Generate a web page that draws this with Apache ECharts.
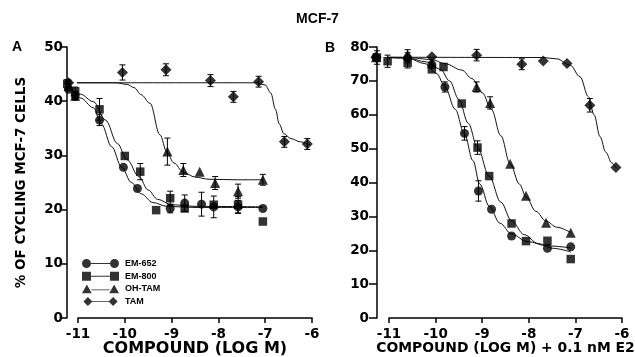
<!DOCTYPE html>
<html>
<head>
<meta charset="utf-8">
<title>MCF-7</title>
<script src="https://cdn.jsdelivr.net/npm/echarts@6/dist/echarts.min.js"></script>
<style>
  html, body { margin: 0; padding: 0; background: #fff; }
  #chart { width: 635px; height: 357px; }
</style>
</head>
<body>
<div id="chart"></div>
<script>
// compounds, in legend order
const compounds = ['EM-652', 'EM-800', 'OH-TAM', 'TAM'];

// panel A: [log M, % cycling, error half-width]
const aEM652 = [[-11.2, 42.2, 0], [-11.06, 41, 0.8], [-10.54, 36.5, 1.0], [-10.03, 27.8, 0], [-9.73, 23.9, 0],
  [-9.03, 20.2, 0.8], [-8.72, 21.2, 1.5], [-8.36, 21.0, 2.2], [-8.1, 20.5, 2.0], [-7.58, 20.5, 1.2], [-7.05, 20.2, 0]];
const aEM800 = [[-11.23, 43.2, 0.8], [-11.06, 41.8, 0.8], [-10.54, 38.5, 2.0], [-10.0, 29.9, 0], [-9.67, 27.0, 1.5],
  [-9.33, 19.9, 0], [-9.03, 22.1, 1.3], [-8.72, 20.2, 0], [-8.1, 20.9, 0], [-7.58, 20.9, 1.5], [-7.05, 17.8, 0]];
const aOHTAM = [[-11.2, 42.8, 0], [-11.06, 41.0, 0.7], [-9.09, 30.7, 2.5], [-8.75, 27.3, 1.2], [-8.4, 27.0, 0],
  [-8.07, 24.9, 1.2], [-7.58, 23.4, 1.3], [-7.05, 25.5, 1.0]];
const aTAM = [[-11.2, 43.4, 0], [-10.05, 45.3, 1.4], [-9.12, 45.8, 1.1], [-8.17, 43.8, 1.1], [-7.68, 40.8, 1.0],
  [-7.14, 43.6, 1.0], [-6.59, 32.5, 1.0], [-6.1, 32.1, 1.0]];

// panel A fitted curves
const aFitEM652 = [[-11.2, 42.2], [-10.95, 40.6], [-10.67, 38.8], [-10.5, 35.8], [-10.28, 31.6], [-10.07, 27.9],
  [-9.86, 25.0], [-9.65, 22.9], [-9.4, 21.3], [-9.1, 20.6], [-8.5, 20.4], [-7.05, 20.4]];
const aFitEM800 = [[-11.2, 42.6], [-10.95, 41.3], [-10.67, 39.9], [-10.41, 36.5], [-10.16, 32.2], [-9.95, 29.2],
  [-9.7, 26.1], [-9.5, 23.6], [-9.3, 21.9], [-9.0, 20.9], [-8.5, 20.6], [-7.05, 20.5]];
const aFitOHTAM = [[-11.2, 43.4], [-10.2, 43.4], [-9.95, 43.1], [-9.8, 42.5], [-9.65, 41.2], [-9.46, 39.6],
  [-9.25, 33.8], [-9.1, 30.6], [-8.95, 28.6], [-8.75, 26.9], [-8.5, 26.0], [-8.2, 25.6], [-7.6, 25.5], [-7.05, 25.5]];
const aFitTAM = [[-11.2, 43.4], [-7.2, 43.4], [-7.0, 43.0], [-6.88, 41.5], [-6.78, 38.5], [-6.7, 35.8],
  [-6.6, 34.0], [-6.45, 33.1], [-6.25, 32.5], [-6.04, 31.9]];

// panel B (+ 0.1 nM E2)
const bEM652 = [[-11.28, 77, 0], [-10.6, 76.8, 1.5], [-10.08, 74.8, 0], [-9.8, 68.2, 1.5], [-9.38, 54.5, 2.0],
  [-9.08, 37.5, 3.0], [-8.8, 32.1, 0], [-8.37, 24.2, 0], [-7.6, 20.6, 0], [-7.1, 21.0, 0]];
const bEM800 = [[-11.26, 76.9, 2.0], [-11.03, 75.8, 1.8], [-10.6, 75.3, 1.5], [-10.08, 73.4, 0], [-9.83, 74.1, 0],
  [-9.44, 63.3, 0], [-9.1, 50.3, 2.0], [-8.85, 41.9, 0], [-8.37, 27.9, 0], [-8.06, 22.7, 0], [-7.6, 22.8, 0], [-7.1, 17.4, 0]];
const bOHTAM = [[-11.28, 77, 0], [-10.6, 77.7, 1.5], [-10.08, 75.2, 0], [-9.12, 68.2, 1.5], [-8.83, 63.5, 1.8],
  [-8.4, 45.5, 0], [-8.06, 36.1, 0], [-7.63, 28.1, 0], [-7.1, 25.2, 0]];
const bTAM = [[-11.28, 77, 0], [-10.08, 77.1, 0], [-9.12, 77.6, 1.7], [-8.15, 74.9, 1.6], [-7.69, 75.9, 0],
  [-7.18, 75.1, 0], [-6.69, 62.8, 2.0], [-6.13, 44.4, 0]];

const bFitEM652 = [[-11.28, 77], [-10.6, 76.7], [-10.23, 75.1], [-9.98, 72.2], [-9.8, 68.3], [-9.58, 61.6],
  [-9.38, 54.3], [-9.2, 46.5], [-9.05, 39.5], [-8.85, 33.0], [-8.62, 28.0], [-8.37, 24.8], [-8.04, 22.6], [-7.6, 21.3], [-7.1, 20.7]];
const bFitEM800 = [[-11.28, 77], [-10.6, 76.8], [-10.2, 75.6], [-9.9, 73.5], [-9.7, 70.0], [-9.5, 64.5],
  [-9.3, 57.5], [-9.1, 50.3], [-8.85, 41.9], [-8.6, 34.2], [-8.37, 28.7], [-8.1, 24.6], [-7.8, 22.0], [-7.5, 20.6], [-7.1, 19.5]];
const bFitOHTAM = [[-11.28, 77], [-10.6, 76.9], [-10.08, 76.3], [-9.8, 75.1], [-9.44, 73.2], [-9.22, 70.7],
  [-9.0, 66.5], [-8.8, 61.5], [-8.6, 53.8], [-8.4, 45.5], [-8.2, 39.5], [-8.06, 35.8], [-7.85, 31.5], [-7.63, 28.6], [-7.4, 26.8], [-7.1, 25.2]];
const bFitTAM = [[-11.28, 77], [-7.7, 76.9], [-7.4, 76.5], [-7.11, 74.6], [-6.9, 71.2], [-6.72, 65.3],
  [-6.6, 60.0], [-6.47, 53.5], [-6.35, 49.0], [-6.22, 45.8], [-6.13, 44.4]];

const FONT = '"Liberation Sans", Arial, Helvetica, sans-serif';
const WIDE = '"DejaVu Sans", Verdana, sans-serif';
const symbols = ['circle', 'rect', 'triangle', 'diamond'];
const symSizes = [9, 8.5, 10, 11];
const icons = [
  'path://M0,4.5a4.5,4.5 0 1,0 9,0a4.5,4.5 0 1,0 -9,0Z M28,4.5a4.5,4.5 0 1,0 9,0a4.5,4.5 0 1,0 -9,0Z M9,4h19v1h-19Z',
  'path://M0,0h9v9h-9Z M28,0h9v9h-9Z M9,4h19v1h-19Z',
  'path://M4.5,0L9.5,9H-0.5Z M32.5,0L37.5,9H27.5Z M9,5h19v1h-19Z',
  'path://M4.5,-0.5L9.5,4.5L4.5,9.5L-0.5,4.5Z M32.5,-0.5L37.5,4.5L32.5,9.5L27.5,4.5Z M9,4h19v1h-19Z'
];

const chart = echarts.init(document.getElementById('chart'), null, { renderer: 'canvas' });

function errBar(params, api) {
  const x = api.value(0), y = api.value(1), e = api.value(2);
  const hi = api.coord([x, y + e]);
  const lo = api.coord([x, y - e]);
  const st = { stroke: '#000', lineWidth: 1 };
  return {
    type: 'group',
    children: [
      { type: 'line', shape: { x1: hi[0], y1: hi[1], x2: lo[0], y2: lo[1] }, style: st },
      { type: 'line', shape: { x1: hi[0] - 3, y1: hi[1], x2: hi[0] + 3, y2: hi[1] }, style: st },
      { type: 'line', shape: { x1: lo[0] - 3, y1: lo[1], x2: lo[0] + 3, y2: lo[1] }, style: st }
    ]
  };
}

function panelSeries(idx, points, fits) {
  const out = [];
  fits.forEach((f) => {
    out.push({
      type: 'line', xAxisIndex: idx, yAxisIndex: idx, data: f,
      showSymbol: false, smooth: 0.35, smoothMonotone: 'x', clip: false,
      lineStyle: { color: '#111', width: 1 }, silent: true, z: 2
    });
  });
  points.forEach((p, i) => {
    out.push({
      type: 'custom', xAxisIndex: idx, yAxisIndex: idx, renderItem: errBar,
      data: p.filter((d) => d[2] > 0), encode: { x: 0, y: 1 }, clip: false, silent: true, z: 3
    });
    out.push({
      type: 'scatter', name: compounds[i], xAxisIndex: idx, yAxisIndex: idx,
      data: p.map((d) => [d[0], d[1]]), symbol: symbols[i], symbolSize: symSizes[i],
      itemStyle: { color: '#000' }, clip: false, z: 4
    });
  });
  return out;
}

const axisLabel = { color: '#000', fontFamily: WIDE, fontWeight: 'bold', fontSize: 13.5 };
const axisLine = { show: true, lineStyle: { color: '#000', width: 1.5 } };
const axisTick = { show: true, length: 5, lineStyle: { color: '#000', width: 1.5 } };
const nameStyle = (size) => ({ color: '#000', fontFamily: WIDE, fontWeight: 'bold', fontSize: size });

const option = {
  animation: false,
  backgroundColor: '#fff',
  title: [
    { text: 'MCF-7', left: 'center', top: 7, textStyle: { fontFamily: FONT, fontWeight: 'bold', fontSize: 14, color: '#000' } },
    { text: 'A', left: 7, top: 35, textStyle: { fontFamily: FONT, fontWeight: 'bold', fontSize: 14, color: '#000' } },
    { text: 'B', left: 320, top: 36, textStyle: { fontFamily: FONT, fontWeight: 'bold', fontSize: 14, color: '#000' } }
  ],
  legend: {
    orient: 'vertical', left: 77, top: 254, itemWidth: 37, itemHeight: 9, itemGap: 3.7,
    selectedMode: false,
    textStyle: { color: '#000', fontFamily: FONT, fontWeight: 'bold', fontSize: 9, lineHeight: 9, padding: [0, 0, 0, 1] },
    data: compounds.map((c, i) => ({ name: c, icon: icons[i] }))
  },
  grid: [
    { left: 78, top: 47, width: 234, height: 271, containLabel: false, outerBoundsMode: 'none' },
    { left: 389, top: 47, width: 233, height: 271, containLabel: false, outerBoundsMode: 'none' }
  ],
  xAxis: [0, 1].map((i) => ({
    type: 'value', gridIndex: i, min: -11, max: -6, interval: 1,
    name: i === 0 ? 'COMPOUND (LOG M)' : 'COMPOUND (LOG M) + 0.1 nM E2',
    nameLocation: 'middle', nameGap: 23, nameMoveOverlap: false,
    nameTextStyle: nameStyle(i === 0 ? 16 : 13.9),
    axisLine, axisTick, splitLine: { show: false },
    axisLabel: Object.assign({ margin: 9 }, axisLabel)
  })),
  yAxis: [
    {
      type: 'value', gridIndex: 0, min: 0, max: 50, interval: 10, offset: 11,
      name: '% OF CYCLING MCF-7 CELLS', nameLocation: 'middle', nameGap: 39, nameMoveOverlap: false,
      nameTextStyle: nameStyle(13.5),
      axisLine, axisTick, splitLine: { show: false },
      axisLabel: Object.assign({ margin: 4 }, axisLabel)
    },
    {
      type: 'value', gridIndex: 1, min: 0, max: 80, interval: 10, offset: 12,
      axisLine, axisTick: Object.assign({}, axisTick, { length: 8 }), splitLine: { show: false },
      axisLabel: Object.assign({ margin: 8 }, axisLabel)
    }
  ],
  series: [].concat(
    panelSeries(0, [aEM652, aEM800, aOHTAM, aTAM], [aFitEM652, aFitEM800, aFitOHTAM, aFitTAM]),
    panelSeries(1, [bEM652, bEM800, bOHTAM, bTAM], [bFitEM652, bFitEM800, bFitOHTAM, bFitTAM])
  )
};

chart.setOption(option);
window.addEventListener('resize', () => chart.resize());
</script>
</body>
</html>
